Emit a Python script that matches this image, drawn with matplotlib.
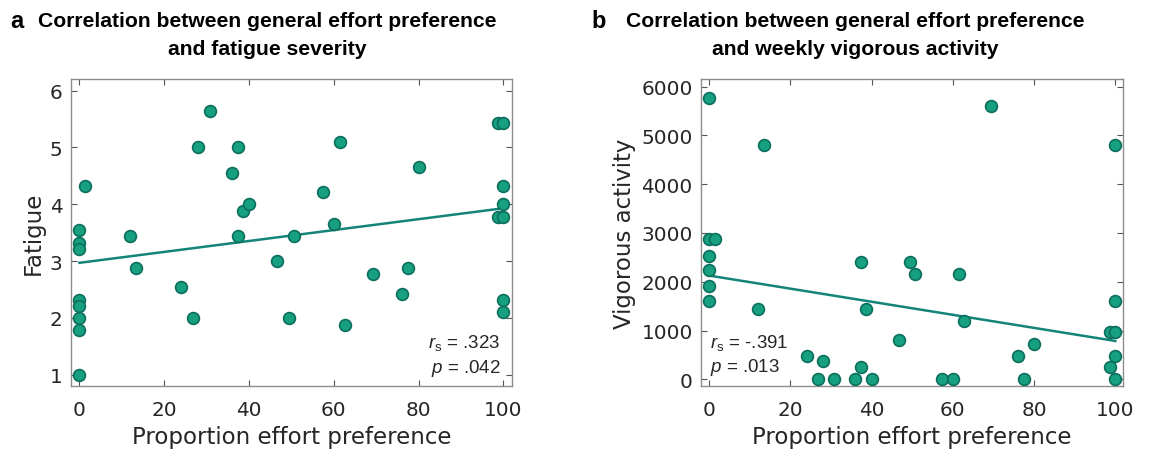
import numpy as np
import matplotlib
matplotlib.use('Agg')
import matplotlib.pyplot as plt

# ==========================================
# data
# ==========================================
fatigue_x = [0, 0, 0, 1.3, 0, 0, 0, 0, 0, 12.0, 13.4, 24.0, 26.7, 28.0, 30.7, 36.0,
             37.4, 37.4, 38.7, 40.1, 46.7, 49.4, 50.7, 57.4, 60.0, 61.4, 62.7, 69.3,
             76.0, 77.4, 80.0, 98.7, 100, 100, 100, 98.7, 100, 100, 100]
fatigue_y = [3.55, 3.32, 3.21, 4.32, 2.32, 2.21, 2.0, 1.78, 1.0, 3.44, 2.88, 2.55, 2.0,
             5.0, 5.65, 4.55, 5.0, 3.44, 3.88, 4.0, 3.0, 2.0, 3.44, 4.21, 3.66, 5.1,
             1.88, 2.77, 2.43, 2.88, 4.66, 5.43, 5.43, 4.32, 4.0, 3.77, 3.77, 2.32, 2.11]

vig_x = [0, 0, 1.4, 0, 0, 0, 0, 13.4, 12.0, 24.0, 28.0, 26.7, 30.7, 36.0, 37.3, 37.3,
         38.7, 40.0, 46.7, 49.4, 50.7, 57.4, 60.0, 61.4, 62.7, 69.4, 76.0, 77.4, 80.1,
         98.7, 100, 100, 100, 100, 98.7, 100]
vig_y = [5760, 2880, 2880, 2520, 2250, 1920, 1600, 4800, 1450, 480, 370, 0, 0, 0, 250,
         2400, 1450, 0, 800, 2400, 2160, 0, 0, 2160, 1200, 5600, 480, 0, 720,
         960, 960, 4800, 1600, 480, 250, 0]

# fitted line, value at x=0 and x=100
fit_x = [0, 100]
fit_a = [2.97, 3.93]
fit_b = [2126, 786]

stats_a = ['$r_{\\mathrm{s}}$ = .323', '$p$ = .042']
stats_b = ['$r_{\\mathrm{s}}$ = -.391', '$p$ = .013']

titles = ['Correlation between general effort preference\nand fatigue severity',
          'Correlation between general effort preference\nand weekly vigorous activity']

# ==========================================
# style
# ==========================================
plt.rcParams['font.family'] = ['DejaVu Sans']
# mathtext only used for the r_s / p notes
plt.rcParams['mathtext.fontset'] = 'custom'
plt.rcParams['mathtext.rm'] = 'Liberation Sans'
plt.rcParams['mathtext.it'] = 'Liberation Sans:italic'

FACE = '#17a07f'
EDGE = '#0c6e5c'
LINE = '#138479'
TXT = '#262626'

fig = plt.figure(figsize=(11.54, 4.56), dpi=100)
ax1 = fig.add_axes([0.0615, 0.151, 0.382, 0.673])
ax2 = fig.add_axes([0.6075, 0.151, 0.366, 0.673])


def style_axes(ax):
    for s in ax.spines.values():
        s.set_color('#8c8c8c')
        s.set_linewidth(1.0)
    ax.tick_params(direction='in', length=4, width=0.8, color='#555555',
                   top=True, right=True, labelsize=14.4, labelcolor=TXT)
    ax.tick_params(axis='x', pad=10)
    ax.tick_params(axis='y', pad=6)


def scatter_fit(ax, x, y, fit):
    ax.scatter(x, y, s=72, c=FACE, edgecolors=EDGE, linewidths=1.2, zorder=3)
    ax.plot(fit_x, fit, color=LINE, lw=1.8, zorder=2)


def note(ax, x, y, s, ha):
    ax.text(x, y, s, transform=ax.transAxes, ha=ha, va='baseline',
            fontsize=13.5, color=TXT, family='Liberation Sans')


# a
scatter_fit(ax1, fatigue_x, fatigue_y, fit_a)
ax1.set_xlim(-2, 102)
ax1.set_ylim(0.8, 6.2)
ax1.set_xticks([0, 20, 40, 60, 80, 100])
ax1.set_yticks([1, 2, 3, 4, 5, 6])
ax1.set_xlabel('Proportion effort preference', fontsize=16.5, color=TXT, labelpad=4)
ax1.set_ylabel('Fatigue', fontsize=16.5, color=TXT, labelpad=4)
style_axes(ax1)
note(ax1, 0.974, 0.127, stats_a[0], 'right')
note(ax1, 0.974, 0.046, stats_a[1], 'right')

# b
scatter_fit(ax2, vig_x, vig_y, fit_b)
ax2.set_xlim(-2, 102)
ax2.set_ylim(-140, 6150)
ax2.set_xticks([0, 20, 40, 60, 80, 100])
ax2.set_yticks([0, 1000, 2000, 3000, 4000, 5000, 6000])
ax2.set_xlabel('Proportion effort preference', fontsize=16.5, color=TXT, labelpad=4)
ax2.set_ylabel('Vigorous activity', fontsize=16.5, color=TXT, labelpad=4)
style_axes(ax2)
note(ax2, 0.021, 0.127, stats_b[0], 'left')
note(ax2, 0.021, 0.049, stats_b[1], 'left')

# titles + panel letters
for cx, t in zip([267, 855], titles):
    fig.text(cx / 1154, 1 - 12 / 456, t, ha='center', va='top', fontsize=15.2,
             fontweight='bold', linespacing=1.6, family='Liberation Sans')
fig.text(10 / 1154, 1 - 28 / 456, 'a', ha='left', va='baseline', fontsize=17,
         fontweight='bold', family='Liberation Sans')
fig.text(591 / 1154, 1 - 28 / 456, 'b', ha='left', va='baseline', fontsize=17,
         fontweight='bold', family='Liberation Sans')

plt.savefig('out.png', dpi=100)
